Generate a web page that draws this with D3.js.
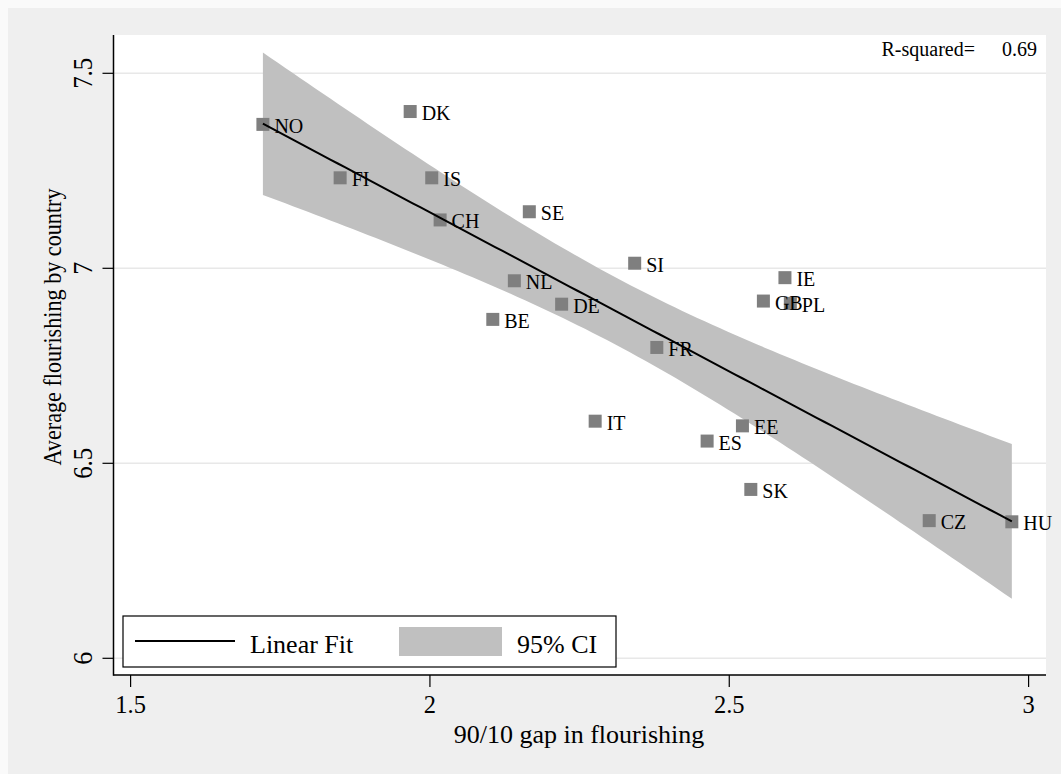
<!DOCTYPE html>
<html><head><meta charset="utf-8">
<script src="https://cdn.jsdelivr.net/npm/d3@7"></script>
<style>
html,body{margin:0;padding:0;background:#fff;}
text{font-family:"Liberation Serif","Times New Roman",serif;fill:#000;}
</style></head>
<body><svg id="chart" width="1061" height="774"></svg>
<script>
const countries = ["NO","DK","FI","IS","CH","SE","SI","NL","DE","BE","IE","GB","PL","FR","IT","EE","ES","SK","CZ","HU"];
const gap90_10 = [1.721,1.967,1.850,2.003,2.017,2.166,2.342,2.141,2.220,2.105,2.593,2.557,2.602,2.379,2.276,2.522,2.463,2.536,2.834,2.972];
const flourishing = [7.369,7.402,7.232,7.232,7.124,7.145,7.013,6.968,6.908,6.869,6.976,6.916,6.910,6.797,6.608,6.596,6.557,6.433,6.353,6.350];
const xTicks = [1.5, 2, 2.5, 3];
const yTicks = [6, 6.5, 7, 7.5];
const legendLabels = ["Linear Fit", "95% CI"];
const rsqLabel = "R-squared=";
const rsqValue = "0.69";
const xTitle = "90/10 gap in flourishing";
const yTitle = "Average flourishing by country";
const tCrit = 2.101; // t(0.975, df=18)

const svg = d3.select("#chart");
const W = 1061, H = 774;
const plot = {l: 113.5, r: 1046, t: 35, b: 675};

svg.append("rect").attr("x",0).attr("y",0).attr("width",W).attr("height",H).attr("fill","#fafafa");
svg.append("rect").attr("x",8).attr("y",8).attr("width",W-8).attr("height",H-8).attr("fill","#efefef");
svg.append("rect").attr("x",plot.l).attr("y",plot.t).attr("width",plot.r-plot.l).attr("height",plot.b-plot.t).attr("fill","#fff");

const x = d3.scaleLinear().domain([1.5,3]).range([130.6,1028.6]);
const y = d3.scaleLinear().domain([6,7.5]).range([658.3,73.3]);

// grid
svg.append("g").selectAll("line").data(yTicks).join("line")
  .attr("x1",plot.l).attr("x2",plot.r).attr("y1",d=>y(d)).attr("y2",d=>y(d))
  .attr("stroke","#e8e8e8").attr("stroke-width",1.5);

// regression
const data = countries.map((c,i)=>({c, x:gap90_10[i], y:flourishing[i]}));
const n = data.length;
const mx = d3.mean(data,d=>d.x), my = d3.mean(data,d=>d.y);
const sxx = d3.sum(data,d=>(d.x-mx)**2), sxy = d3.sum(data,d=>(d.x-mx)*(d.y-my));
const b1 = sxy/sxx, b0 = my - b1*mx;
const sse = d3.sum(data,d=>(d.y-b0-b1*d.x)**2);
const s = Math.sqrt(sse/(n-2));
const [xmin,xmax] = d3.extent(data,d=>d.x);
const grid = d3.range(0,101).map(i=>xmin+(xmax-xmin)*i/100);
const band = grid.map(v=>{const f=b0+b1*v; const se=s*Math.sqrt(1/n+(v-mx)**2/sxx); return {x:v,lo:f-tCrit*se,hi:f+tCrit*se,f};});

svg.append("path").datum(band)
  .attr("d", d3.area().x(d=>x(d.x)).y0(d=>y(d.lo)).y1(d=>y(d.hi)))
  .attr("fill","#c0c0c0");

// markers
svg.append("g").selectAll("rect").data(data).join("rect")
  .attr("x",d=>x(d.x)-6.5).attr("y",d=>y(d.y)-6.5).attr("width",13).attr("height",13)
  .attr("fill","#7f7f7f");

svg.append("path").datum(band)
  .attr("d", d3.line().x(d=>x(d.x)).y(d=>y(d.f)))
  .attr("fill","none").attr("stroke","#000").attr("stroke-width",2);

svg.append("g").selectAll("text").data(data).join("text")
  .attr("x",d=>x(d.x)+11.5).attr("y",d=>y(d.y)+8.5)
  .attr("font-size",20).text(d=>d.c);

// axes
svg.append("line").attr("x1",plot.l).attr("x2",plot.l).attr("y1",plot.t).attr("y2",plot.b+0.75).attr("stroke","#000").attr("stroke-width",1.5);
svg.append("line").attr("x1",plot.l).attr("x2",plot.r).attr("y1",plot.b).attr("y2",plot.b).attr("stroke","#000").attr("stroke-width",1.5);

const xt = svg.append("g").selectAll("g").data(xTicks).join("g").attr("transform",d=>`translate(${x(d)},0)`);
xt.append("line").attr("y1",plot.b).attr("y2",plot.b+12).attr("stroke","#000").attr("stroke-width",1.2);
xt.append("text").attr("y",713).attr("text-anchor","middle").attr("font-size",24.5).text(d=>d);

const yt = svg.append("g").selectAll("g").data(yTicks).join("g").attr("transform",d=>`translate(0,${y(d)})`);
yt.append("line").attr("x1",plot.l-11).attr("x2",plot.l).attr("stroke","#000").attr("stroke-width",1.2);
yt.append("text").attr("transform","translate(92,0) rotate(-90)").attr("text-anchor","middle").attr("font-size",26.5)
  .attr("textLength",d=>String(d).length===1?13:31).attr("lengthAdjust","spacingAndGlyphs").text(d=>d);

svg.append("text").attr("x",579).attr("y",743).attr("text-anchor","middle").attr("font-size",26).text(xTitle);
svg.append("text").attr("transform","translate(61,327) rotate(-90)").attr("text-anchor","middle").attr("font-size",26)
  .attr("textLength",277).attr("lengthAdjust","spacingAndGlyphs").text(yTitle);

// R-squared
svg.append("text").attr("x",975).attr("y",56).attr("text-anchor","end").attr("font-size",20).text(rsqLabel);
svg.append("text").attr("x",1037).attr("y",56).attr("text-anchor","end").attr("font-size",20).text(rsqValue);

// legend
const lg = svg.append("g");
lg.append("rect").attr("x",123).attr("y",616).attr("width",493).attr("height",51).attr("fill","#fff").attr("stroke","#000").attr("stroke-width",1.2);
lg.append("line").attr("x1",135).attr("x2",235).attr("y1",641).attr("y2",641).attr("stroke","#000").attr("stroke-width",2);
lg.append("text").attr("x",250).attr("y",653).attr("font-size",26).text(legendLabels[0]);
lg.append("rect").attr("x",399).attr("y",627).attr("width",103).attr("height",29).attr("fill","#c0c0c0");
lg.append("text").attr("x",517).attr("y",653).attr("font-size",26).text(legendLabels[1]);
</script></body></html>
